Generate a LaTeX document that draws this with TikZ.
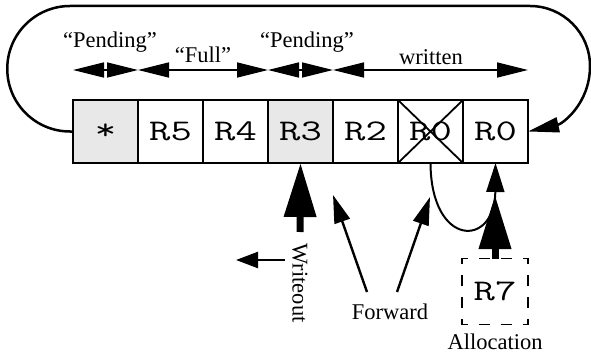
\documentclass[tikz,border=0pt]{standalone}
\usepackage{fontspec}
\usepackage{graphicx}
\setmainfont{Liberation Serif}
\usetikzlibrary{arrows.meta}
\newcommand\regtext[1]{\scalebox{1.38}[1]{#1}}
\begin{document}
\begin{tikzpicture}[x=1pt,y=1pt,
  regfont/.style={font=\ttfamily\fontsize{30}{30}\selectfont},
  reg/.style={draw, line width=1.6pt, minimum width=65pt, minimum height=63pt, inner sep=0pt, outer sep=0pt, regfont},
  shaded/.style={fill=gray!18},
  lbl/.style={font=\fontsize{22.5}{22.5}\selectfont, anchor=base, inner sep=0pt},
  txt/.style={font=\fontsize{22.5}{22.5}\selectfont, inner sep=0pt},
  dimline/.style={line width=1.4pt, {Triangle[length=31pt,width=15pt]}-{Triangle[length=31pt,width=15pt]}},
  loopline/.style={line width=2.5pt, -{Triangle[length=31pt,width=15pt]}},
  thinarrow/.style={line width=2.4pt, -{Triangle[length=28pt,width=16pt]}},
  fatarrow/.style={line width=7pt, -{Triangle[length=54pt,width=31pt]}},
  dashbox/.style={draw, line width=1.6pt, dash pattern=on 11pt off 11pt, dash phase=5.5pt, minimum width=66pt, minimum height=66pt, inner sep=0pt, outer sep=0pt, regfont}]
\useasboundingbox (0,0) rectangle (591,354);
% register boxes
\node[reg, shaded] (b1) at (105.5,222.5) {\regtext{*}};
\node[reg] (b2) at (170.5,222.5) {\regtext{R5}};
\node[reg] (b3) at (235.5,222.5) {\regtext{R4}};
\node[reg, shaded] (b4) at (300.5,222.5) {\regtext{R3}};
\node[reg] (b5) at (365.5,222.5) {\regtext{R2}};
\node[reg] (b6) at (430.5,222.5) {\regtext{R0}};
\node[reg] (b7) at (495.5,222.5) {\regtext{R0}};
\draw[line width=1.8pt] (b6.north west) -- (b6.south east) (b6.south west) -- (b6.north east);
% dimension arrows
\coordinate (d0) at (73,284);
\coordinate (d1) at (138,284);
\coordinate (d2) at (268,284);
\coordinate (d3) at (333,284);
\coordinate (d4) at (528,284);
\draw[dimline] (d0) -- (d1);
\draw[dimline] (d1) -- (d2);
\draw[dimline] (d2) -- (d3);
\draw[dimline] (d3) -- (d4);
\node[lbl] (t1) at (110,306) {“Pending”};
\node[lbl] (t2) at (203,291) {“Full”};
\node[lbl] (t3) at (307,306) {“Pending”};
\node[lbl] (t4) at (431,289) {written};
% loop
\draw[loopline] (b1.west) -- (70,222.5) arc[start angle=270, end angle=90, radius=62.75]
  -- (530,348) arc[start angle=90, end angle=0, radius=60]
  .. controls (590,250) and (562,230) .. (b7.east);
% writeout
\coordinate (wo) at (300,122);
\draw[fatarrow] (wo) -- (b4.south);
\node[txt, rotate=-90] (wt) at (300,71) {Writeout};
\coordinate (ws) at (285,94);
\coordinate (we) at (236,94);
\draw[line width=2.4pt, -{Triangle[length=22pt,width=16pt]}] (ws) -- (we);
% forward
\node[txt] (fw) at (390,42) {Forward};
\coordinate (f1s) at (367,62);
\coordinate (f1e) at (333,159);
\coordinate (f2s) at (397,62);
\coordinate (f2e) at (430,157);
\draw[thinarrow] (f1s) -- (f1e);
\draw[thinarrow] (f2s) -- (f2e);
% curve
\draw[line width=2pt, -{Triangle[length=29pt,width=18pt]}] (b6.south) .. controls (431,106) and (495,106) .. (b7.south);
% allocation
\node[dashbox] (r7) at (495,62.5) {\regtext{R7}};
\node[txt] (al) at (495,12) {Allocation};
\coordinate (at) at (495,159);
\draw[fatarrow] (r7.north) -- (at);
\end{tikzpicture}
\end{document}
